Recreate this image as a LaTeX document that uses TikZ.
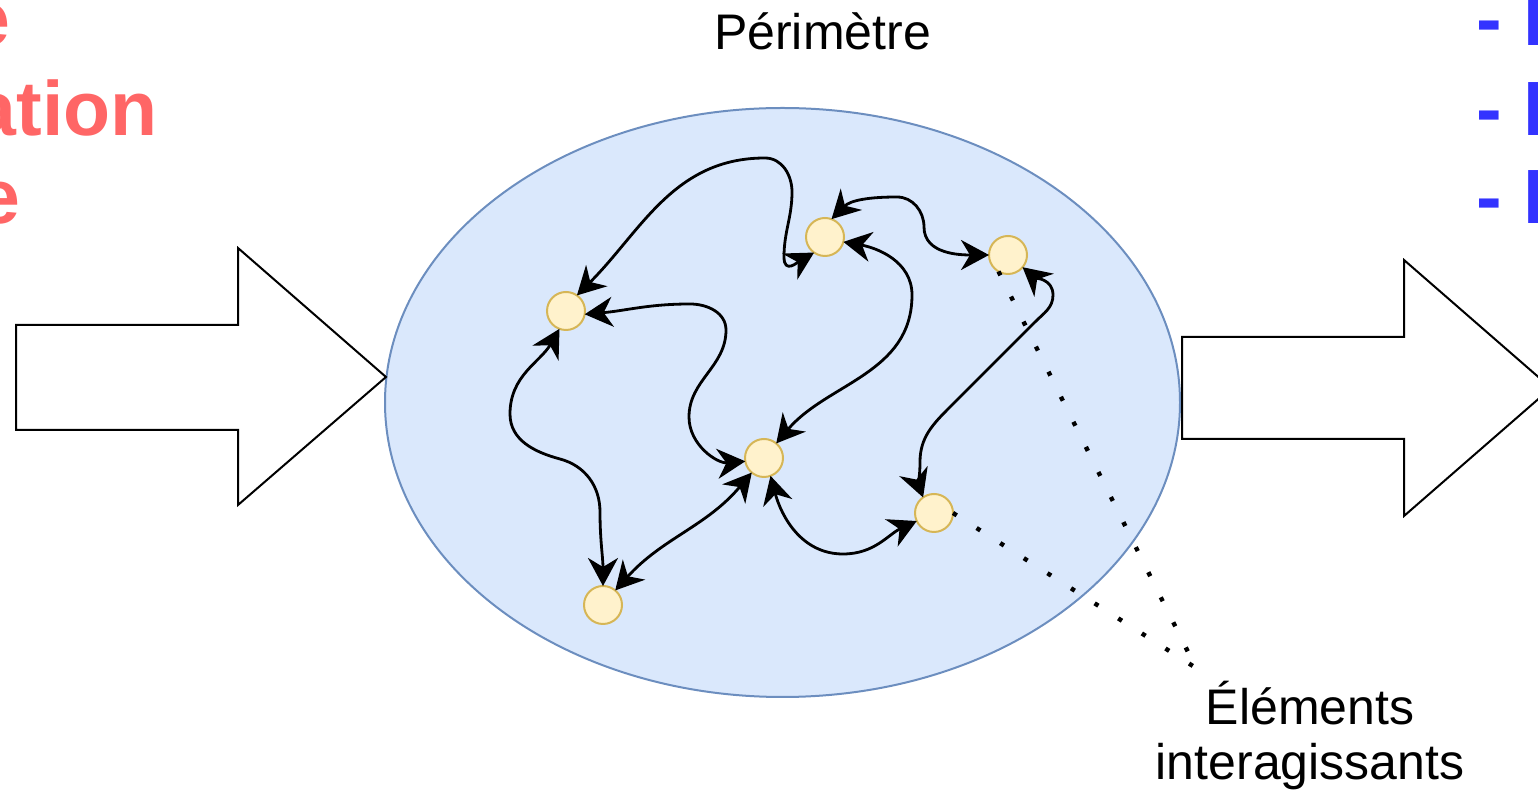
\documentclass[tikz,border=0pt]{standalone}
\usepackage{fontspec}
\setmainfont{Liberation Sans}
\usetikzlibrary{arrows.meta,shapes.geometric}
\definecolor{elemfill}{HTML}{FFF2CC}
\definecolor{elemline}{HTML}{D6B656}
\definecolor{sysfill}{HTML}{DAE8FC}
\definecolor{sysline}{HTML}{6C8EBF}
\definecolor{redtxt}{HTML}{FF6666}
\definecolor{bluetxt}{HTML}{3333FF}
\tikzset{
  elem/.style={circle, draw=elemline, fill=elemfill, line width=1pt, minimum size=19pt, inner sep=0pt, outer sep=0pt},
  link/.style={line width=1.4pt, arrows={Stealth[length=14pt,width=15pt,inset=4.5pt]-Stealth[length=14pt,width=15pt,inset=4.5pt]}},
  hint/.style={line width=2.2pt, dash pattern=on 2.2pt off 11.8pt},
  bigarrow/.style={draw=black, fill=white, line width=1pt, line join=miter},
  lbl/.style={font=\fontsize{25pt}{27.5pt}\selectfont, inner sep=0pt},
  ttl/.style={font=\bfseries\fontsize{38.5pt}{44pt}\selectfont, inner sep=0pt}
}
\begin{document}
\begin{tikzpicture}[x=0.5pt,y=0.5pt]
\useasboundingbox (0,0) rectangle (1538,792);
% system perimeter
\node[ellipse, draw=sysline, fill=sysfill, line width=1pt, minimum width=397.5pt, minimum height=294.5pt, inner sep=0pt] (sys) at (782.5,389.5) {};
% big arrows
\draw[bigarrow] (16,467) -- (238,467) -- (238,544) -- (386,415) -- (238,287) -- (238,362) -- (16,362) -- cycle;
\draw[bigarrow] (1182,455) -- (1404,455) -- (1404,532) -- (1551,404) -- (1404,276) -- (1404,353) -- (1182,353) -- cycle;
% elements
\node[elem] (A) at (566,481) {};
\node[elem] (B) at (825,555) {};
\node[elem] (C) at (1008,537) {};
\node[elem] (D) at (764,334) {};
\node[elem] (E) at (934,279) {};
\node[elem] (F) at (603,187) {};
% interactions
\draw[link] (A.55) to[out=45,in=180] (765,634) to[out=0,in=90] (792,600) to[out=-90,in=90] (784,535) to[out=-90,in=210,looseness=1.5] (B.235);
\draw[link] (B.70) to[out=45,in=180] (897,595) to[out=0,in=90] (924,565) to[out=-90,in=180] (C.west);
\draw[link] (B.-15) to[out=-10,in=90] (912,497) to[out=-90,in=50] (D.50);
\draw[link] (A.-10) to[out=5,in=180] (690,488) to[out=0,in=90] (726,462) to[out=-90,in=90] (689,375) to[out=-90,in=185] (D.190);
\draw[link] (A.-110) to[out=-120,in=90] (510,378) to[out=-90,in=165] (560,333) to[out=-15,in=90] (600,280) to[out=-90,in=90] (F.north);
\draw[link] (D.230) to[out=230,in=48] (F.50);
\draw[link] (D.-70) to[out=-75,in=180] (843,238) to[out=0,in=205] (E.205);
\draw[link] (C.-40) to[out=-40,in=90] (1053,497) to[out=-90,in=45] (1035,470) -- (950,385) to[out=225,in=90] (920,330) to[out=-90,in=110] (E.125);
% labels
\node[lbl, anchor=base] (T) at (822.5,742) {Périmètre};
\node[lbl, align=center, anchor=base] (L) at (1310,12) {Éléments\\interagissants};
\coordinate (P) at (1196,124);
\draw[hint] (C.240) -- (P);
\draw[hint] (E.east) -- (P);
% cut-off side texts
\node[ttl, text=redtxt, anchor=base east] (r1) at (11,746) {e};
\node[ttl, text=redtxt, anchor=base east] (r2) at (158,656) {ation};
\node[ttl, text=redtxt, anchor=base east] (r3) at (21,568) {e};
\node[ttl, text=bluetxt, anchor=base west] (b1) at (1476,746) {- F};
\node[ttl, text=bluetxt, anchor=base west] (b2) at (1476,656) {- I};
\node[ttl, text=bluetxt, anchor=base west] (b3) at (1476,568) {- E};
\end{tikzpicture}
\end{document}
